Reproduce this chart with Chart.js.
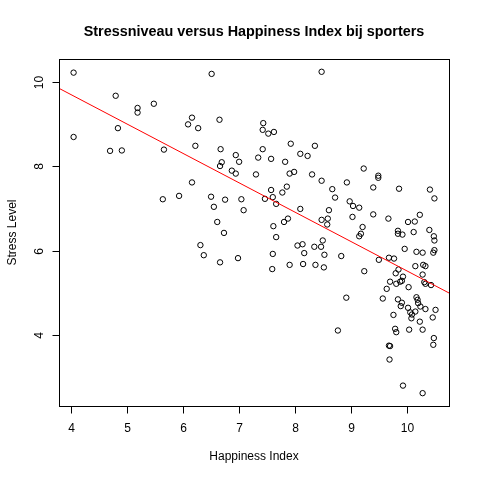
<!DOCTYPE html>
<html>
<head>
<meta charset="utf-8">
<script src="https://cdn.jsdelivr.net/npm/chart.js@4.4.1/dist/chart.umd.min.js"></script>
<style>
  html, body { margin: 0; padding: 0; background: #fff; }
  #wrap { width: 480px; height: 480px; }
</style>
</head>
<body>
<div id="wrap"><canvas id="c"></canvas></div>
<script>
/* values */
var happiness = [
  4.05, 6.51, 4.05, 4.80, 5.19, 5.19, 5.48, 4.84, 4.70, 4.91,
  5.66, 6.16, 6.09, 6.27, 6.65, 6.22, 6.67, 6.94, 7.00, 6.69,
  6.66, 6.87, 6.94, 7.30, 7.34, 6.16, 5.64, 5.93, 6.50, 6.75,
  7.04, 6.55, 7.08, 6.61, 6.73, 6.31, 8.47, 7.43, 7.42, 7.52,
  7.62, 7.92, 8.35, 7.42, 7.57, 8.09, 8.22, 7.82, 7.90, 7.98,
  8.30, 8.47, 9.22, 9.48, 9.48, 8.92, 7.57, 7.85, 7.77, 8.66,
  9.39, 9.85, 10.40, 10.48, 7.46, 7.60, 7.66, 8.71, 8.97, 9.03,
  9.14, 8.09, 8.60, 9.39, 9.66, 9.02, 10.22, 10.01, 10.13, 8.47,
  8.58, 8.57, 7.87, 7.80, 7.61, 7.66, 9.20, 9.17, 9.14, 9.83,
  9.83, 9.91, 10.11, 10.39, 10.47, 10.48, 8.49, 8.04, 8.13, 8.34,
  8.46, 6.37, 6.66, 6.98, 7.60, 7.59, 7.90, 8.16, 8.14, 8.36,
  8.51, 8.52, 8.82, 8.91, 10.48, 10.46, 9.95, 10.16, 10.27, 9.49,
  9.67, 9.76, 9.23, 9.79, 9.84, 10.14, 10.28, 10.32, 10.27, 9.92,
  9.90, 9.87, 9.69, 9.80, 10.02, 9.63, 10.30, 10.32, 10.42, 9.56,
  9.83, 10.16, 10.18, 9.90, 9.88, 10.01, 10.19, 10.23, 10.32, 10.50,
  9.75, 10.05, 10.08, 10.07, 10.14, 10.45, 10.22, 8.76, 9.78, 9.80,
  10.03, 10.27, 10.47, 10.46, 9.67, 9.69, 9.68, 9.92, 10.27
];
var stress = [
  10.23, 10.20, 8.70, 9.68, 9.39, 9.28, 9.49, 8.91, 8.37, 8.38,
  8.40, 9.16, 9.00, 8.91, 9.11, 8.49, 8.41, 8.27, 8.11, 8.10,
  8.01, 7.90, 7.83, 7.81, 8.21, 7.62, 7.22, 7.30, 7.28, 7.21,
  7.22, 7.04, 6.96, 6.68, 6.42, 6.13, 10.25, 9.03, 8.87, 8.78,
  8.82, 8.54, 8.49, 8.41, 8.18, 8.30, 8.25, 8.11, 7.83, 7.87,
  7.81, 7.66, 7.95, 7.78, 7.73, 7.62, 7.44, 7.52, 7.38, 7.46,
  7.50, 7.47, 7.45, 7.24, 7.23, 7.27, 7.11, 7.26, 7.17, 7.06,
  7.02, 6.99, 6.96, 6.86, 6.76, 6.80, 6.85, 6.68, 6.69, 6.73,
  6.76, 6.62, 6.76, 6.68, 6.58, 6.32, 6.56, 6.40, 6.34, 6.47,
  6.40, 6.38, 6.44, 6.49, 6.34, 6.24, 6.24, 6.12, 6.15, 6.09,
  6.09, 5.89, 5.72, 5.82, 5.92, 5.56, 5.66, 5.94, 5.68, 5.66,
  5.60, 5.90, 5.87, 4.88, 6.01, 5.95, 6.04, 5.97, 5.95, 5.78,
  5.83, 5.81, 5.51, 5.46, 5.55, 5.63, 5.66, 5.63, 5.43, 5.38,
  5.28, 5.26, 5.26, 5.21, 5.13, 5.09, 5.25, 5.21, 5.18, 4.86,
  4.84, 4.89, 4.83, 4.76, 4.68, 4.64, 4.75, 4.67, 4.61, 4.59,
  4.47, 4.53, 4.48, 4.39, 4.55, 4.41, 4.31, 4.10, 4.14, 4.06,
  4.12, 4.12, 3.92, 3.76, 3.74, 3.73, 3.41, 2.79, 2.61
];
var xTicks = [4, 5, 6, 7, 8, 9, 10];
var yTicks = [4, 6, 8, 10];
var xRange = [3.79, 10.74];
var yRange = [2.305, 10.554];
var fitIntercept = 12.51;
var fitSlope = -0.70;

var TITLE = 'Stressniveau versus Happiness Index bij sporters';
var X_LABEL = 'Happiness Index';
var Y_LABEL = 'Stress Level';
var FONT = '"Liberation Sans", Arial, Helvetica, sans-serif';

var points = happiness.map(function (h, i) { return { x: h, y: stress[i] }; });
var fitLine = xRange.map(function (x) { return { x: x, y: fitIntercept + fitSlope * x }; });

/* base-R style box, ticks and labels, drawn from the chart's scales */
var rAxes = {
  id: 'rAxes',
  afterDraw: function (chart) {
    var ctx = chart.ctx, a = chart.chartArea;
    var sx = chart.scales.x, sy = chart.scales.y;
    ctx.save();
    ctx.strokeStyle = '#000';
    ctx.fillStyle = '#000';
    ctx.lineWidth = 1;
    ctx.strokeRect(Math.round(a.left) + 0.5, Math.round(a.top) + 0.5,
                   Math.round(a.right - a.left), Math.round(a.bottom - a.top));

    ctx.font = '12px ' + FONT;
    ctx.textAlign = 'center';
    ctx.textBaseline = 'middle';
    var b = Math.round(a.bottom) + 0.5;
    xTicks.forEach(function (v) {
      var px = Math.round(sx.getPixelForValue(v)) + 0.5;
      ctx.beginPath(); ctx.moveTo(px, b); ctx.lineTo(px, b + 7); ctx.stroke();
      ctx.fillText(String(v), px, a.bottom + 23);
    });
    var l = Math.round(a.left) + 0.5;
    yTicks.forEach(function (v) {
      var py = Math.round(sy.getPixelForValue(v)) + 0.5;
      ctx.beginPath(); ctx.moveTo(l - 7, py); ctx.lineTo(l, py); ctx.stroke();
      ctx.save();
      ctx.translate(a.left - 19.5, py);
      ctx.rotate(-Math.PI / 2);
      ctx.fillText(String(v), 0, 0);
      ctx.restore();
    });

    var cx = (a.left + a.right) / 2, cy = (a.top + a.bottom) / 2;
    ctx.fillText(X_LABEL, cx, 457);
    ctx.save();
    ctx.translate(13, cy);
    ctx.rotate(-Math.PI / 2);
    ctx.fillText(Y_LABEL, 0, 0);
    ctx.restore();

    ctx.font = 'bold 14.4px ' + FONT;
    ctx.fillText(TITLE, cx, 32);
    ctx.restore();
  }
};

new Chart(document.getElementById('c'), {
  type: 'scatter',
  data: {
    datasets: [
      { type: 'line', data: fitLine, borderColor: '#FF0000', borderWidth: 1,
        pointRadius: 0, fill: false, tension: 0 },
      { data: points, pointRadius: 2.7, pointHoverRadius: 2.7,
        borderColor: '#000', backgroundColor: 'rgba(0,0,0,0)', pointBorderWidth: 1 }
    ]
  },
  options: {
    responsive: true,
    maintainAspectRatio: false,
    animation: false,
    layout: { padding: { left: 59, top: 59, right: 31, bottom: 74 } },
    plugins: { legend: { display: false }, tooltip: { enabled: false }, title: { display: false } },
    scales: {
      x: { type: 'linear', display: false, min: xRange[0], max: xRange[1] },
      y: { type: 'linear', display: false, min: yRange[0], max: yRange[1] }
    }
  },
  plugins: [rAxes]
});
</script>
</body>
</html>
